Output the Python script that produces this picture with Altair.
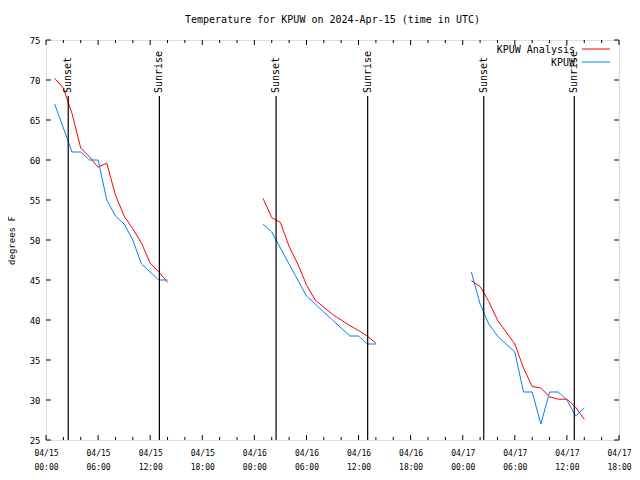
import altair as alt
import pandas as pd

# ---- data (hours since 2024-04-15 00:00 UTC) ----
hours_1 = list(range(1, 15))
hours_2 = list(range(25, 39))
hours_3 = list(range(49, 63))

analysis_1 = [70.2, 69.0, 65.8, 61.5, 60.4, 59.1, 59.6, 55.6, 53.0, 51.4, 49.6, 47.1, 46.0, 44.7]
analysis_2 = [55.2, 52.8, 52.2, 49.2, 47.0, 44.4, 42.5, 41.6, 40.7, 40.0, 39.3, 38.7, 38.0, 37.1]
analysis_3 = [44.9, 44.2, 42.3, 40.0, 38.5, 37.0, 34.0, 31.7, 31.5, 30.4, 30.1, 30.1, 29.1, 27.6]

obs_1 = [67, 64, 61, 61, 60, 60, 55, 53, 52, 50, 47, 46, 45, 45]
obs_2 = [52, 51, 49, 47, 45, 43, 42, 41, 40, 39, 38, 38, 37, 37]
obs_3 = [46, 42, 39.5, 38, 37, 36, 31, 31, 27, 31, 31, 30, 28, 29]

sunset_hours = [2.56, 26.5, 50.42]
sunrise_hours = [13.06, 37.05, 60.85]

series_names = ["KPUW Analysis", "KPUW"]
series_colors = ["#ff0000", "#0080ff"]

title_text = "Temperature for KPUW on 2024-Apr-15 (time in UTC)"

x_major = list(range(0, 67, 6))
x_minor = [h for h in range(0, 67, 2) if h % 6 != 0]
y_ticks = list(range(25, 76, 5))

# ---- tables ----
rows = []
for seg, (hs, vals) in enumerate([(hours_1, analysis_1), (hours_2, analysis_2), (hours_3, analysis_3)]):
    for h, v in zip(hs, vals):
        rows.append({"hour": h, "temp": v, "series": series_names[0], "seg": f"a{seg}"})
for seg, (hs, vals) in enumerate([(hours_1, obs_1), (hours_2, obs_2), (hours_3, obs_3)]):
    for h, v in zip(hs, vals):
        rows.append({"hour": h, "temp": v, "series": series_names[1], "seg": f"o{seg}"})
df = pd.DataFrame(rows)

sun_df = pd.DataFrame(
    [{"hour": h, "label": "Sunset"} for h in sunset_hours]
    + [{"hour": h, "label": "Sunrise"} for h in sunrise_hours]
)
major_df = pd.DataFrame({"hour": x_major})
minor_df = pd.DataFrame({"hour": x_minor})
ytick_df = pd.DataFrame({"temp": y_ticks})

W, H = 573, 400
FONT = "DejaVu Sans Mono"

xscale = alt.Scale(domain=[0, 66], nice=False, zero=False)
yscale = alt.Scale(domain=[25, 75], nice=False, zero=False)

x_label_expr = (
    "datum.value % 6 == 0 ? ['04/' + toString(15 + floor(datum.value / 24)), "
    "(datum.value % 24 < 10 ? '0' : '') + toString(datum.value % 24) + ':00'] : ''"
)

xaxis = alt.Axis(
    values=x_major, labelExpr=x_label_expr, title=None, ticks=False, domain=False,
    grid=False, labelFont=FONT, labelFontSize=8, labelColor="black",
    labelPadding=9, labelLineHeight=14, labelFlush=False, labelOverlap=False,
)
yaxis = alt.Axis(
    values=y_ticks, title="degrees F", ticks=False, domain=False, grid=False,
    labelFont=FONT, labelFontSize=9, labelColor="black", labelPadding=6,
    titleFont=FONT, titleFontSize=9, titleFontWeight="normal", titleColor="black",
    titlePadding=13,
)

X = alt.X("hour:Q", scale=xscale, axis=xaxis)
Y = alt.Y("temp:Q", scale=yscale, axis=yaxis)

lines = alt.Chart(df).mark_line(strokeWidth=1).encode(
    x=X, y=Y,
    color=alt.Color("series:N", scale=alt.Scale(domain=series_names, range=series_colors), legend=None),
    detail="seg:N",
)

sun_rules = alt.Chart(sun_df).mark_rule(color="black", strokeWidth=1.2).encode(
    x=X, y=alt.value(56), y2=alt.value(H)
)
sun_text = alt.Chart(sun_df).mark_text(
    angle=270, align="left", baseline="middle", font=FONT, fontSize=10, color="black"
).encode(x=X, y=alt.value(53), text="label:N")

# inward ticks (gnuplot style), bottom/top and left/right
tick_layers = []
for d, ln in [(major_df, 5), (minor_df, 3)]:
    tick_layers.append(alt.Chart(d).mark_rule(color="black").encode(
        x=X, y=alt.value(H), y2=alt.value(H - ln)))
    tick_layers.append(alt.Chart(d).mark_rule(color="black").encode(
        x=X, y=alt.value(0), y2=alt.value(ln)))
tick_layers.append(alt.Chart(ytick_df).mark_rule(color="black").encode(
    y=Y, x=alt.value(0), x2=alt.value(5)))
tick_layers.append(alt.Chart(ytick_df).mark_rule(color="black").encode(
    y=Y, x=alt.value(W - 5), x2=alt.value(W)))

# legend (gnuplot style: label, then line sample)
legend_layers = []
for i, (name, col) in enumerate(zip(series_names, series_colors)):
    ld = pd.DataFrame({"label": [name]})
    legend_layers.append(alt.Chart(ld).mark_text(
        align="right", baseline="middle", font=FONT, fontSize=10, color="black"
    ).encode(text="label:N", x=alt.value(529), y=alt.value(10 + 13 * i)))
    legend_layers.append(alt.Chart(ld).mark_rule(color=col, strokeWidth=1).encode(
        x=alt.value(536), x2=alt.value(564), y=alt.value(9 + 13 * i)))

# chart title as text above the plot
title_layer = alt.Chart(pd.DataFrame({"t": [title_text]})).mark_text(
    align="center", baseline="middle", font=FONT, fontSize=10, color="black"
).encode(text="t:N", x=alt.value(W / 2), y=alt.value(-20))

chart = alt.layer(lines, sun_rules, sun_text, *tick_layers, *legend_layers, title_layer).properties(
    width=W, height=H,
    autosize=alt.AutoSizeParams(type="none"),
    padding={"left": 38, "top": 32, "right": 13, "bottom": 32},
).configure_view(stroke="black", strokeWidth=1).configure(background="white")

chart.save("out.html", embed_options={"renderer": "svg", "actions": False})
